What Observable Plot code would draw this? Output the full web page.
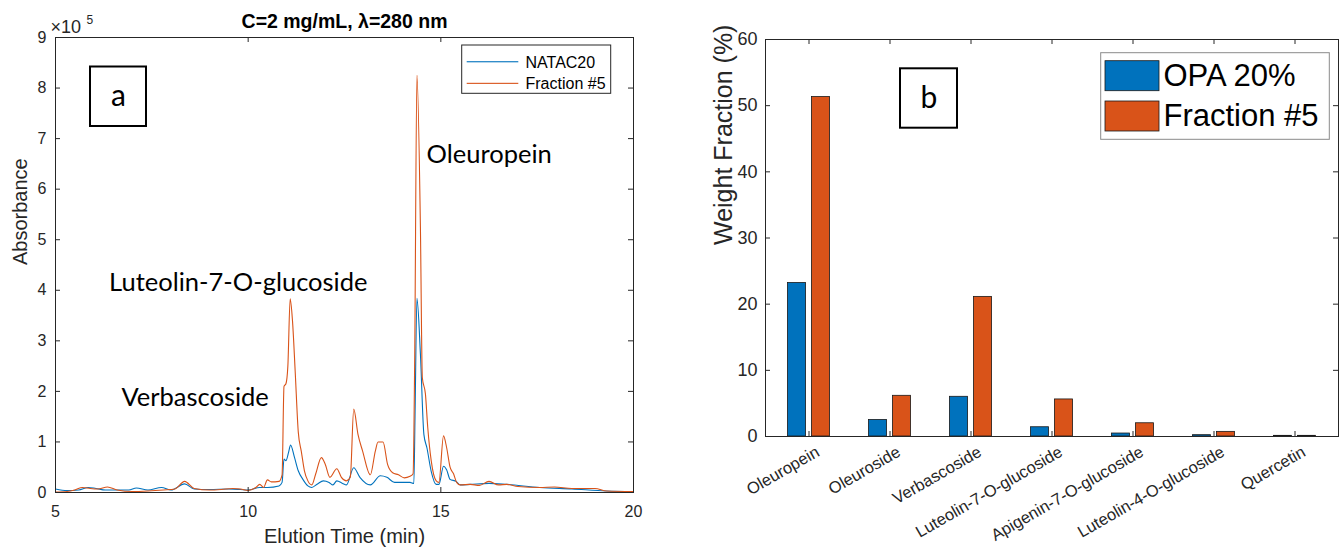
<!DOCTYPE html>
<html>
<head>
<meta charset="utf-8">
<script src="https://cdn.jsdelivr.net/npm/d3@7"></script>
<script src="https://cdn.jsdelivr.net/npm/@observablehq/plot@0.6"></script>
<style>
  html, body { margin: 0; padding: 0; background: #fff; }
  #wrap { position: relative; width: 1341px; height: 549px; overflow: hidden; background: #fff; }
  #left { position: absolute; left: 0; top: 0; }
  #right { position: absolute; left: 660px; top: 0; }
</style>
</head>
<body>
<div id="wrap"><div id="left"></div><div id="right"></div></div>
<script>
// ---------- Panel (a): chromatogram, absorbance in units of 1e5 ----------
const timeNatac = [5.0,5.3,5.6,5.85,6.05,6.3,6.6,6.9,7.1,7.4,7.75,8.0,8.35,8.6,9.0,9.5,9.8,10.0,10.3,10.5,10.8,10.88,10.93,10.98,11.05,11.1,11.2,11.3,11.42,11.55,11.65,11.8,11.95,12.1,12.2,12.3,12.45,12.55,12.74,12.9,13.17,13.43,13.6,13.8,14.2,14.3,14.33,14.38,14.47,14.56,14.64,14.75,14.88,14.95,15.07,15.15,15.24,15.4,15.5,15.76,16.25,16.71,17.57,18.4,19.3,20.0];
const absNatac  = [0.07,0.04,0.05,0.10,0.08,0.05,0.05,0.05,0.09,0.05,0.10,0.05,0.17,0.07,0.06,0.07,0.06,0.05,0.10,0.10,0.13,0.20,0.66,0.63,0.80,0.94,0.70,0.43,0.26,0.13,0.10,0.17,0.23,0.20,0.15,0.23,0.18,0.15,0.49,0.30,0.15,0.33,0.30,0.20,0.20,0.18,1.50,3.84,2.74,1.15,0.88,0.42,0.16,0.16,0.52,0.45,0.26,0.22,0.15,0.16,0.18,0.16,0.10,0.07,0.03,0.02];

const timeFrac5 = [5.0,5.3,5.5,5.7,5.9,6.1,6.35,6.6,7.0,7.4,7.8,8.1,8.35,8.6,9.0,9.3,9.6,9.8,10.0,10.2,10.3,10.4,10.5,10.6,10.8,10.88,10.93,10.98,11.03,11.09,11.15,11.22,11.3,11.38,11.46,11.55,11.65,11.75,11.9,12.0,12.12,12.3,12.42,12.55,12.65,12.74,12.85,12.97,13.17,13.3,13.37,13.5,13.62,13.75,13.9,14.05,14.2,14.28,14.32,14.38,14.47,14.52,14.6,14.66,14.75,14.88,14.95,15.07,15.15,15.24,15.33,15.41,15.5,15.76,16.0,16.25,16.5,16.71,17.0,17.57,17.95,18.4,19.0,19.3,20.0];
const absFrac5  = [0.01,0.02,0.05,0.10,0.08,0.07,0.11,0.05,0.02,0.03,0.05,0.07,0.22,0.08,0.05,0.06,0.08,0.07,0.04,0.10,0.16,0.10,0.25,0.21,0.22,0.35,2.10,2.15,2.50,3.83,3.40,2.40,1.20,0.81,0.43,0.23,0.15,0.36,0.69,0.56,0.30,0.47,0.30,0.23,0.30,1.65,1.15,0.82,0.35,0.82,1.00,1.00,0.55,0.39,0.35,0.29,0.32,0.37,2.50,8.25,5.25,2.27,1.95,1.29,0.63,0.23,0.20,1.12,0.89,0.50,0.37,0.20,0.15,0.16,0.14,0.22,0.15,0.16,0.12,0.10,0.11,0.08,0.08,0.03,0.02];

const xTicksA = [5, 10, 15, 20];
const yTicksA = [0, 1, 2, 3, 4, 5, 6, 7, 8, 9];
const seriesA = ["NATAC20", "Fraction #5"];

// ---------- Panel (b): weight fractions ----------
const compounds = ["Oleuropein", "Oleuroside", "Verbascoside", "Luteolin-7-O-glucoside", "Apigenin-7-O-glucoside", "Luteolin-4-O-glucoside", "Quercetin"];
const opa20     = [23.2, 2.5, 6.0, 1.4, 0.45, 0.2, 0.1];
const fraction5 = [51.3, 6.15, 21.1, 5.6, 2.0, 0.7, 0.1];
const seriesB = ["OPA 20%", "Fraction #5"];
const yTicksB = [0, 10, 20, 30, 40, 50, 60];

const BLUE = "#0072BD", ORANGE = "#D95319", AX = "#262626";
const SANS = "'Liberation Sans', Arial, Helvetica, sans-serif";
const HUMAN = "Lato, 'Open Sans', 'Noto Sans', sans-serif";

const natac = timeNatac.map((t, i) => ({t, v: absNatac[i]}));
const frac5 = timeFrac5.map((t, i) => ({t, v: absFrac5[i]}));

// Left panel geometry
const LW = 660, LH = 549, LML = 55, LMR = 27, LMT = 37, LMB = 57;
const LFW = LW - LML - LMR, LFH = LH - LMT - LMB;
const mid = {lineAnchor: "middle"};

const left = Plot.plot({
  width: LW, height: LH,
  marginLeft: LML, marginRight: LMR, marginTop: LMT, marginBottom: LMB,
  style: {fontFamily: SANS, fontSize: "16px", color: AX, background: "white", overflow: "visible"},
  x: {domain: [5, 20], ticks: xTicksA, tickSize: 0, tickPadding: 13, label: null},
  y: {domain: [0, 9], ticks: yTicksA, tickSize: 0, tickPadding: 9, label: null},
  marks: [
    Plot.line(natac, {x: "t", y: "v", stroke: BLUE, strokeWidth: 1.1, curve: "monotone-x"}),
    Plot.line(frac5, {x: "t", y: "v", stroke: ORANGE, strokeWidth: 1.1, curve: "monotone-x"}),
    Plot.frame({stroke: AX, strokeWidth: 1}),
    Plot.ruleX(xTicksA, {stroke: AX, insetTop: LFH - 5}),
    Plot.ruleX(xTicksA, {stroke: AX, insetBottom: LFH - 5}),
    Plot.ruleY(yTicksA, {stroke: AX, insetRight: LFW - 5}),
    Plot.ruleY(yTicksA, {stroke: AX, insetLeft: LFW - 5}),
    // panel letter box
    Plot.rect([0], {insetLeft: 35, insetRight: LFW - 91, insetTop: 29.5, insetBottom: LFH - 89, fill: "white", stroke: "black", strokeWidth: 2}),
    Plot.text(["a"], {...mid, text: d => d, frameAnchor: "top-left", textAnchor: "middle", dx: 63, dy: 59, fontSize: 30, fontFamily: HUMAN, fill: "black"}),
    // peak annotations
    Plot.text([{t: 14.63, v: 6.67, s: "Oleuropein"}, {t: 6.39, v: 4.15, s: "Luteolin-7-O-glucoside"}, {t: 6.71, v: 1.88, s: "Verbascoside"}],
      {x: "t", y: "v", text: "s", textAnchor: "start", fontSize: 25.5, fontFamily: HUMAN, fill: "black"}),
    // legend
    Plot.rect([0], {insetLeft: 406.7, insetRight: 22.3, insetTop: 8, insetBottom: LFH - 56.3, fill: "white", stroke: AX, strokeWidth: 1}),
    Plot.rect([0], {insetLeft: 411.7, insetRight: LFW - 463.3, insetTop: 24.2, insetBottom: LFH - 25.3, fill: BLUE}),
    Plot.rect([0], {insetLeft: 411.7, insetRight: LFW - 463.3, insetTop: 45.8, insetBottom: LFH - 46.9, fill: ORANGE}),
    Plot.text([seriesA[0]], {...mid, text: d => d, frameAnchor: "top-left", dx: 470, dy: 25, fontSize: 16, textAnchor: "start", fill: "black"}),
    Plot.text([seriesA[1]], {...mid, text: d => d, frameAnchor: "top-left", dx: 470, dy: 46.5, fontSize: 16, textAnchor: "start", fill: "black"}),
    // title, exponent, axis labels
    Plot.text(["C=2 mg/mL, λ=280 nm"], {...mid, text: d => d, frameAnchor: "top", dy: -16, fontSize: 19.5, fontWeight: "bold", fill: "black"}),
    Plot.text(["×10"], {...mid, text: d => d, frameAnchor: "top-left", dx: -5, dy: -10, textAnchor: "start", fontSize: 18, fill: AX}),
    Plot.text(["5"], {...mid, text: d => d, frameAnchor: "top-left", dx: 31, dy: -17, textAnchor: "start", fontSize: 12, fill: AX}),
    Plot.text(["Elution Time (min)"], {...mid, text: d => d, frameAnchor: "bottom", dy: 44, fontSize: 20, fill: AX}),
    Plot.text(["Absorbance"], {...mid, text: d => d, frameAnchor: "left", dx: -35, rotate: -90, fontSize: 20, fill: AX})
  ]
});
document.getElementById("left").appendChild(left);

// Right panel geometry
const RW = 681, RH = 549, RML = 105, RMR = 3, RMT = 39, RMB = 113;
const RFW = RW - RML - RMR, RFH = RH - RMT - RMB;
const band = RFW / compounds.length;
const barInset = (band - 19) / 2;

const rows = compounds.flatMap((c, i) => [
  {compound: c, sample: seriesB[0], value: opa20[i]},
  {compound: c, sample: seriesB[1], value: fraction5[i]}
]);

const right = Plot.plot({
  width: RW, height: RH,
  marginLeft: RML, marginRight: RMR, marginTop: RMT, marginBottom: RMB,
  style: {fontFamily: SANS, fontSize: "18px", color: AX, background: "white", overflow: "visible"},
  x: {domain: compounds, padding: 0, axis: null},
  y: {domain: [0, 60], ticks: yTicksB, tickSize: 0, tickPadding: 8, label: null},
  marks: [
    Plot.barY(rows.filter(d => d.sample === seriesB[0]), {x: "compound", y: "value", fill: BLUE, stroke: "#1a1a1a", strokeWidth: 0.8, insetLeft: barInset, insetRight: barInset, dx: -12}),
    Plot.barY(rows.filter(d => d.sample === seriesB[1]), {x: "compound", y: "value", fill: ORANGE, stroke: "#1a1a1a", strokeWidth: 0.8, insetLeft: barInset, insetRight: barInset, dx: 12}),
    Plot.frame({stroke: AX, strokeWidth: 1}),
    Plot.ruleX(compounds, {x: d => d, stroke: AX, insetTop: RFH - 5}),
    Plot.ruleX(compounds, {x: d => d, stroke: AX, insetBottom: RFH - 5}),
    Plot.ruleY(yTicksB, {stroke: AX, insetRight: RFW - 5}),
    Plot.ruleY(yTicksB, {stroke: AX, insetLeft: RFW - 5}),
    Plot.text(compounds, {x: d => d, text: d => d, frameAnchor: "bottom", lineAnchor: "middle", rotate: -30, textAnchor: "end", dx: 9, dy: 14, fontSize: 16.5, fill: AX}),
    // panel letter box
    Plot.rect([0], {insetLeft: 135, insetRight: RFW - 192, insetTop: 29.3, insetBottom: RFH - 88.7, fill: "white", stroke: "black", strokeWidth: 2}),
    Plot.text(["b"], {...mid, text: d => d, frameAnchor: "top-left", textAnchor: "middle", dx: 163.5, dy: 59, fontSize: 30, fontFamily: HUMAN, fill: "black"}),
    // legend
    Plot.rect([0], {insetLeft: 335.7, insetRight: 8.7, insetTop: 13.7, insetBottom: RFH - 100.3, fill: "white", stroke: "#8a8a8a", strokeWidth: 1}),
    Plot.rect([0], {insetLeft: 340, insetRight: RFW - 394, insetTop: 21.7, insetBottom: RFH - 51.7, fill: BLUE, stroke: "#1a1a1a", strokeWidth: 0.8}),
    Plot.rect([0], {insetLeft: 340, insetRight: RFW - 394, insetTop: 62, insetBottom: RFH - 92, fill: ORANGE, stroke: "#1a1a1a", strokeWidth: 0.8}),
    Plot.text([seriesB[0]], {...mid, text: d => d, frameAnchor: "top-left", dx: 398, dy: 37, fontSize: 31, textAnchor: "start", fill: "black"}),
    Plot.text([seriesB[1]], {...mid, text: d => d, frameAnchor: "top-left", dx: 398, dy: 77, fontSize: 31, textAnchor: "start", fill: "black"}),
    Plot.text(["Weight Fraction (%)"], {...mid, text: d => d, frameAnchor: "left", dx: -42, dy: 7, rotate: -90, fontSize: 25, fill: AX})
  ]
});
document.getElementById("right").appendChild(right);
</script>
</body>
</html>
